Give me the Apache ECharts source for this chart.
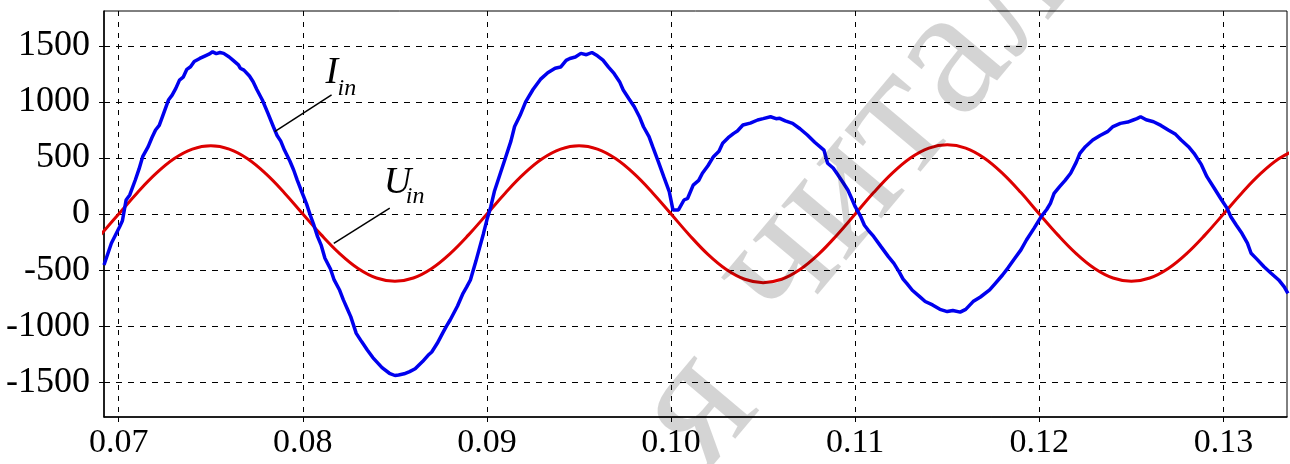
<!DOCTYPE html>
<html>
<head>
    <meta charset="utf-8">
    <title>Iin / Uin</title>
    <script src="https://cdn.jsdelivr.net/npm/echarts@6/dist/echarts.min.js"></script>
    <style>
        html, body { margin: 0; padding: 0; background: #fff; }
    </style>
</head>
<body>
<div id="main" style="width: 1290px;height:464px;"></div>

<script type="text/javascript">
    // tick labels
    var xTicks = [0.07, 0.08, 0.09, 0.10, 0.11, 0.12, 0.13];
    var yTicks = [-1500, -1000, -500, 0, 500, 1000, 1500];

    // U_in (red)
    var timeU = [0.069, 0.070, 0.071, 0.072, 0.073, 0.074, 0.075, 0.076, 0.077, 0.078, 0.079,
        0.080, 0.081, 0.082, 0.083, 0.084, 0.085, 0.086, 0.087, 0.088, 0.089,
        0.090, 0.091, 0.092, 0.093, 0.094, 0.095, 0.096, 0.097, 0.098, 0.099,
        0.100, 0.101, 0.102, 0.103, 0.104, 0.105, 0.106, 0.107, 0.108, 0.109,
        0.110, 0.111, 0.112, 0.113, 0.114, 0.115, 0.116, 0.117, 0.118, 0.119,
        0.120, 0.121, 0.122, 0.123, 0.124, 0.125, 0.126, 0.127, 0.128, 0.129,
        0.130, 0.131, 0.132, 0.133, 0.134];
    var voltageU = [-188, 0, 188, 357, 492, 578, 608, 578, 492, 357, 188,
        0, -186, -353, -486, -571, -600, -571, -486, -353, -186,
        0, 188, 357, 492, 578, 608, 578, 492, 357, 188,
        0, -189, -360, -495, -582, -612, -582, -495, -360, -189,
        0, 191, 363, 500, 588, 618, 588, 500, 363, 191,
        0, -186, -353, -486, -571, -600, -571, -486, -353, -186,
        0, 188, 357, 492, 578];

    // I_in (blue)
    var timeI = [0.0692, 0.0696, 0.07005, 0.0702, 0.0704, 0.0706, 0.0709, 0.0711, 0.0713, 0.0716,
        0.0718, 0.0720, 0.0722, 0.0724, 0.0727, 0.0729, 0.0731, 0.0733, 0.0735, 0.0737,
        0.0739, 0.0741, 0.0744, 0.0747, 0.0749, 0.0751, 0.0753, 0.0755, 0.0757, 0.0760,
        0.0762, 0.0765, 0.0766, 0.0768, 0.0771, 0.0773, 0.0775, 0.0778, 0.0781, 0.0784,
        0.0786, 0.0788, 0.0790, 0.0793, 0.0795, 0.0797, 0.0799, 0.0802, 0.0804, 0.0806,
        0.0808, 0.0810, 0.0812, 0.0815, 0.0817, 0.0820, 0.0822, 0.0824, 0.0826, 0.0829,
        0.0832, 0.0835, 0.0838, 0.0840, 0.0843, 0.0847, 0.0850, 0.0852, 0.0853, 0.0855,
        0.0858, 0.0861, 0.0865, 0.0868, 0.0870, 0.0873, 0.0876, 0.0878, 0.0880, 0.0884,
        0.0887, 0.0889, 0.0891, 0.0894, 0.0896, 0.0898, 0.0900, 0.0902, 0.0904, 0.0907,
        0.0910, 0.0913, 0.0915, 0.0918, 0.0921, 0.0925, 0.0929, 0.0933, 0.0937, 0.0940,
        0.0943, 0.0945, 0.0948, 0.0951, 0.0954, 0.0957, 0.0960, 0.0963, 0.0966, 0.0969,
        0.0972, 0.0974, 0.0977, 0.0980, 0.0983, 0.0985, 0.0988, 0.0990, 0.0993, 0.0996,
        0.0999, 0.1001, 0.1004, 0.1007, 0.1009, 0.1012, 0.1015, 0.1017, 0.1020, 0.1023,
        0.1026, 0.1028, 0.1031, 0.1034, 0.1036, 0.1039, 0.1043, 0.1047, 0.1050, 0.1054,
        0.1057, 0.1059, 0.1062, 0.1066, 0.1070, 0.1074, 0.1078, 0.1083, 0.1085, 0.1088,
        0.1090, 0.1093, 0.1096, 0.1098, 0.1100, 0.1103, 0.1105, 0.1107, 0.1110, 0.1114,
        0.1118, 0.1121, 0.1124, 0.1126, 0.1128, 0.1131, 0.1135, 0.1138, 0.1142, 0.1146,
        0.1150, 0.1153, 0.1157, 0.1160, 0.1164, 0.1168, 0.1173, 0.1176, 0.1180, 0.1183,
        0.1186, 0.1190, 0.1193, 0.1197, 0.1201, 0.1204, 0.1206, 0.1208, 0.1211, 0.1214,
        0.1217, 0.1220, 0.1222, 0.1225, 0.1229, 0.1233, 0.1237, 0.1240, 0.1244, 0.1248,
        0.1251, 0.1253, 0.1255, 0.1258, 0.1262, 0.1266, 0.1270, 0.1274, 0.1277, 0.1281,
        0.1284, 0.1288, 0.1291, 0.1295, 0.1299, 0.1302, 0.1304, 0.1307, 0.1310, 0.1313,
        0.1315, 0.1318, 0.1322, 0.1326, 0.1330, 0.1333, 0.1335];
    var currentI = [-455, -261, -113, -60, 125, 170, 303, 400, 511, 600,
        680, 749, 790, 880, 1016, 1060, 1120, 1194, 1220, 1290,
        1313, 1360, 1387, 1410, 1425, 1446, 1430, 1440, 1432, 1400,
        1372, 1330, 1300, 1283, 1230, 1179, 1110, 1016, 900, 778,
        700, 650, 570, 470, 392, 300, 214, 90, -9, -100,
        -202, -280, -395, -490, -588, -680, -766, -840, -915, -1064,
        -1140, -1212, -1280, -1316, -1370, -1420, -1440, -1435, -1452, -1425,
        -1405, -1380, -1316, -1260, -1230, -1153, -1060, -1000, -945, -820,
        -707, -650, -588, -420, -300, -180, -50, 60, 200, 350,
        500, 650, 780, 880, 1000, 1110, 1200, 1260, 1300, 1310,
        1370, 1387, 1400, 1432, 1420, 1440, 1410, 1372, 1310, 1253,
        1180, 1105, 1030, 956, 860, 778, 690, 600, 470, 333,
        199, 36, 36, 125, 140, 258, 300, 363, 430, 511,
        560, 630, 680, 719, 740, 793, 810, 838, 850, 867,
        850, 853, 830, 808, 760, 704, 640, 570, 453, 410,
        363, 290, 214, 140, 65, -24, -100, -143, -200, -291,
        -380, -440, -520, -580, -618, -680, -737, -780, -811, -850,
        -870, -860, -875, -850, -781, -740, -677, -620, -544, -480,
        -410, -320, -232, -130, -24, 40, 95, 184, 244, 300,
        363, 460, 541, 600, 660, 700, 734, 780, 808, 820,
        838, 850, 867, 840, 823, 790, 749, 710, 660, 600,
        541, 440, 333, 230, 125, 50, -24, -100, -172, -260,
        -350, -400, -470, -530, -588, -650, -707];

    var uData = [];
    for (var i = 0; i < timeU.length; i++) {
        uData.push([timeU[i], voltageU[i]]);
    }
    var iData = [];
    for (var j = 0; j < timeI.length; j++) {
        iData.push([timeI[j], currentI[j]]);
    }

    var myChart = echarts.init(document.getElementById('main'));
    var serif = '"Liberation Serif", "Times New Roman", serif';

    var option = {
        animation: false,
        backgroundColor: '#fff',
        textStyle: { fontFamily: serif, fontSize: 36, color: '#000' },
        grid: {
            left: 104, right: 3, top: 11, bottom: 47,
            show: true, borderColor: '#000', borderWidth: 1,
            containLabel: false
        },
        xAxis: {
            type: 'value',
            min: 0.0692,
            max: 0.13345,
            axisLine: { onZero: false, lineStyle: { color: '#000', width: 1.5 } },
            axisTick: { show: true, inside: false, length: 5, customValues: xTicks, lineStyle: { color: '#000' } },
            axisLabel: {
                customValues: xTicks,
                margin: 9,
                color: '#000',
                fontFamily: serif,
                fontSize: 34,
                formatter: function (v) { return v.toFixed(2); }
            },
            splitLine: { show: true, lineStyle: { color: '#000', type: [5, 6], width: 1 } }
        },
        yAxis: {
            type: 'value',
            min: -1810,
            max: 1810,
            axisLine: { show: true, onZero: false, lineStyle: { color: '#000', width: 1.5 } },
            axisTick: { show: true, inside: false, length: 5, customValues: yTicks, lineStyle: { color: '#000' } },
            axisLabel: {
                customValues: yTicks,
                margin: 14,
                color: '#000',
                fontFamily: serif,
                fontSize: 36,
                formatter: function (v) { return String(v); }
            },
            splitLine: { show: true, lineStyle: { color: '#000', type: [6, 6], width: 1 } }
        },
        series: [
            {
                name: 'Uin',
                type: 'line',
                data: uData,
                smooth: 0.4,
                showSymbol: false,
                lineStyle: { color: '#dd0000', width: 3 },
                z: 3
            },
            {
                name: 'Iin',
                type: 'line',
                data: iData,
                showSymbol: false,
                lineStyle: { color: '#0000ee', width: 3.5 },
                z: 4
            }
        ]
    };
    myChart.setOption(option);

    // leader lines and labels, anchored in data coordinates
    function px(x, y) { return myChart.convertToPixel({ gridIndex: 0 }, [x, y]); }
    var iA = px(0.07847, 734), iB = px(0.08156, 1062);
    var uA = px(0.08168, -261), uB = px(0.08472, 52);
    var deg = Math.PI / 180;
    var wmFont = '185px "Liberation Serif"';

    myChart.setOption({
        graphic: [
            { type: 'line', shape: { x1: iA[0], y1: iA[1], x2: iB[0], y2: iB[1] }, style: { stroke: '#000', lineWidth: 1.5 }, z: 10 },
            { type: 'line', shape: { x1: uA[0], y1: uA[1], x2: uB[0], y2: uB[1] }, style: { stroke: '#000', lineWidth: 1.5 }, z: 10 },
            { type: 'text', x: iB[0] - 6, y: iB[1] - 22, z: 10,
              style: { text: 'I', font: 'italic 38px "Liberation Serif"', fill: '#000', textVerticalAlign: 'middle' } },
            { type: 'text', x: iB[0] + 6, y: iB[1] - 6, z: 10,
              style: { text: 'in', font: 'italic 24px "Liberation Serif"', fill: '#000', textVerticalAlign: 'middle' } },
            { type: 'text', x: uB[0] - 6, y: uB[1] - 25, z: 10,
              style: { text: 'U', font: 'italic 38px "Liberation Serif"', fill: '#000', textVerticalAlign: 'middle' } },
            { type: 'text', x: uB[0] + 16, y: uB[1] - 11, z: 10,
              style: { text: 'in', font: 'italic 24px "Liberation Serif"', fill: '#000', textVerticalAlign: 'middle' } },
            // watermark
            { type: 'text', x: 747, y: 303, rotation: 50 * deg, z: 100, silent: true,
              style: { text: 'читальня', font: wmFont, fill: 'rgba(0,0,0,0.17)', textAlign: 'left', textVerticalAlign: 'middle' } },
            { type: 'text', x: 754, y: 341, rotation: 50 * deg, z: 100, silent: true,
              style: { text: 'я ', font: wmFont, fill: 'rgba(0,0,0,0.17)', textAlign: 'right', textVerticalAlign: 'middle' } }
        ]
    });
</script>
</body>
</html>
